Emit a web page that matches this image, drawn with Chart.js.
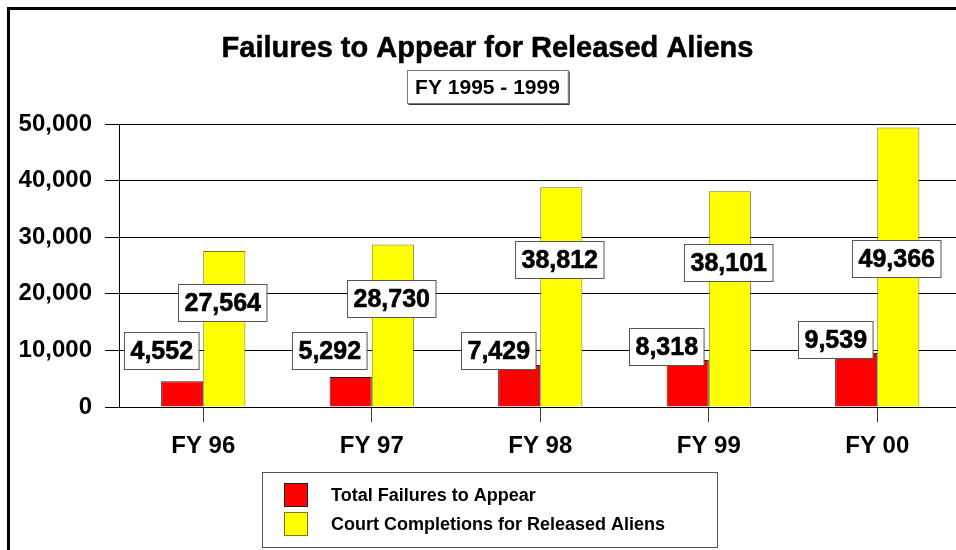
<!DOCTYPE html>
<html>
<head>
<meta charset="utf-8">
<script src="https://cdn.jsdelivr.net/npm/chart.js@4.4.1/dist/chart.umd.min.js"></script>
<style>
html,body{margin:0;padding:0;background:#fff;overflow:hidden;width:956px;height:550px;}
canvas{display:block;}
</style>
</head>
<body>
<canvas id="c" width="975" height="550"></canvas>
<script>
const categories = ['FY 96', 'FY 97', 'FY 98', 'FY 99', 'FY 00'];
const failures = [4552, 5292, 7429, 8318, 9539];
const completions = [27564, 28730, 38812, 38101, 49366];
const yTicks = [0, 10000, 20000, 30000, 40000, 50000];
const seriesNames = ['Total Failures to Appear', 'Court Completions for Released Aliens'];
const titleText = 'Failures to Appear for Released Aliens';
const subtitleText = 'FY 1995 - 1999';

const FONT = '"Liberation Sans", Arial, Helvetica, sans-serif';
Chart.defaults.font.family = FONT;
Chart.defaults.color = '#000';

const fmt = v => v.toLocaleString('en-US');

const decorPlugin = {
  id: 'decor',
  beforeDraw(chart) {
    const ctx = chart.ctx;
    ctx.save();
    ctx.fillStyle = '#fff';
    ctx.fillRect(0, 0, chart.width, chart.height);
    ctx.restore();
  },
  afterDraw(chart) {
    const ctx = chart.ctx;
    ctx.save();
    // frame
    ctx.fillStyle = '#000';
    ctx.fillRect(7, 7, 3, chart.height);
    ctx.fillRect(7, 7, chart.width, 3);
    // title
    const cx = chart.width / 2;
    ctx.textAlign = 'center';
    ctx.textBaseline = 'middle';
    ctx.font = 'bold 29px ' + FONT;
    ctx.fillText(titleText, cx, 49);
    ctx.strokeStyle = '#000';
    ctx.lineWidth = 0.5;
    ctx.strokeText(titleText, cx, 49);
    // subtitle box
    ctx.font = 'bold 21px ' + FONT;
    const sw = ctx.measureText(subtitleText).width;
    const bw = sw + 16, bh = 33;
    const bx = Math.round(cx - bw / 2) + 0.5, by = 70.5;
    ctx.fillStyle = '#fff';
    ctx.fillRect(bx, by, bw, bh);
    ctx.strokeStyle = '#777';
    ctx.lineWidth = 1;
    ctx.strokeRect(bx, by, bw, bh);
    ctx.strokeStyle = '#333';
    ctx.beginPath();
    ctx.moveTo(bx + bw + 1, by + 1); ctx.lineTo(bx + bw + 1, by + bh + 1); ctx.lineTo(bx + 1, by + bh + 1);
    ctx.stroke();
    ctx.fillStyle = '#000';
    ctx.fillText(subtitleText, cx, by + bh / 2 + 1);

    // value labels
    ctx.font = 'bold 25px ' + FONT;
    const yScale = chart.scales.y;
    chart.data.datasets.forEach((ds, di) => {
      const meta = chart.getDatasetMeta(di);
      meta.data.forEach((bar, i) => {
        const v = ds.data[i];
        const txt = fmt(v);
        const tw = ctx.measureText(txt).width;
        const w = tw + 12, h = 37;
        let cxl, cyv;
        if (di === 0) {
          cxl = bar.x - 21;
          cyv = Math.max(v + 2300, 9900);
        } else {
          cxl = bar.x - 2;
          cyv = Math.min(v * 0.67, 26300);
        }
        const cy = yScale.getPixelForValue(cyv);
        const x0 = Math.round(cxl - w / 2) + 0.5, y0 = Math.round(cy - h / 2) + 0.5;
        ctx.fillStyle = '#fff';
        ctx.fillRect(x0, y0, w, h);
        ctx.strokeStyle = '#555';
        ctx.lineWidth = 1;
        ctx.strokeRect(x0, y0, w, h);
        ctx.fillStyle = '#000';
        ctx.textAlign = 'center';
        ctx.textBaseline = 'middle';
        ctx.fillText(txt, x0 + w / 2, y0 + h / 2 + 1);
        ctx.strokeStyle = '#000';
        ctx.lineWidth = 0.6;
        ctx.strokeText(txt, x0 + w / 2, y0 + h / 2 + 1);
      });
    });

    // legend
    const lx = 262.5, ly = 472.5, lw = 455, lh = 75;
    ctx.fillStyle = '#fff';
    ctx.fillRect(lx, ly, lw, lh);
    ctx.strokeStyle = '#555';
    ctx.lineWidth = 1;
    ctx.strokeRect(lx, ly, lw, lh);
    ctx.font = 'bold 18px ' + FONT;
    ctx.textAlign = 'left';
    ctx.textBaseline = 'middle';
    chart.data.datasets.forEach((ds, di) => {
      const sy = 483 + di * 29;
      ctx.fillStyle = ds.backgroundColor;
      ctx.fillRect(284, sy, 24, 24);
      ctx.strokeStyle = ds.borderColor;
      ctx.strokeRect(284.5, sy + 0.5, 23, 23);
      ctx.fillStyle = '#000';
      ctx.fillText(ds.label, 331, sy + 13);
    });
    ctx.restore();
  }
};

new Chart(document.getElementById('c'), {
  type: 'bar',
  data: {
    labels: categories,
    datasets: [
      { label: seriesNames[0], data: failures, backgroundColor: '#FF0000', borderColor: '#222222', borderWidth: 1, categoryPercentage: 0.5, barPercentage: 1 },
      { label: seriesNames[1], data: completions, backgroundColor: '#FFFF00', borderColor: '#7a7a00', borderWidth: 1, categoryPercentage: 0.5, barPercentage: 1 }
    ]
  },
  options: {
    responsive: false,
    animation: false,
    layout: { padding: { left: 0, top: 124, right: 13.5, bottom: 85 } },
    plugins: { legend: { display: false }, tooltip: { enabled: false }, title: { display: false } },
    scales: {
      x: {
        grid: { display: true, drawOnChartArea: false, drawTicks: true, tickLength: 15, offset: false, color: '#333' },
        border: { display: true, color: '#000', width: 1 },
        ticks: { font: { size: 24, weight: 'bold' }, color: '#000', padding: 10, maxRotation: 0 },
        afterFit(scale) { scale.height = 58; }
      },
      y: {
        min: 0, max: 50000,
        afterBuildTicks(scale) { scale.ticks = yTicks.map(v => ({ value: v })); },
        grid: { color: '#000', tickLength: 14, drawTicks: true },
        border: { display: true, color: '#000', width: 1 },
        ticks: { font: { size: 24, weight: 'bold' }, color: '#000', padding: 13, callback: v => fmt(v) },
        afterFit(scale) { scale.width = 119; }
      }
    }
  },
  plugins: [decorPlugin]
});
</script>
</body>
</html>
